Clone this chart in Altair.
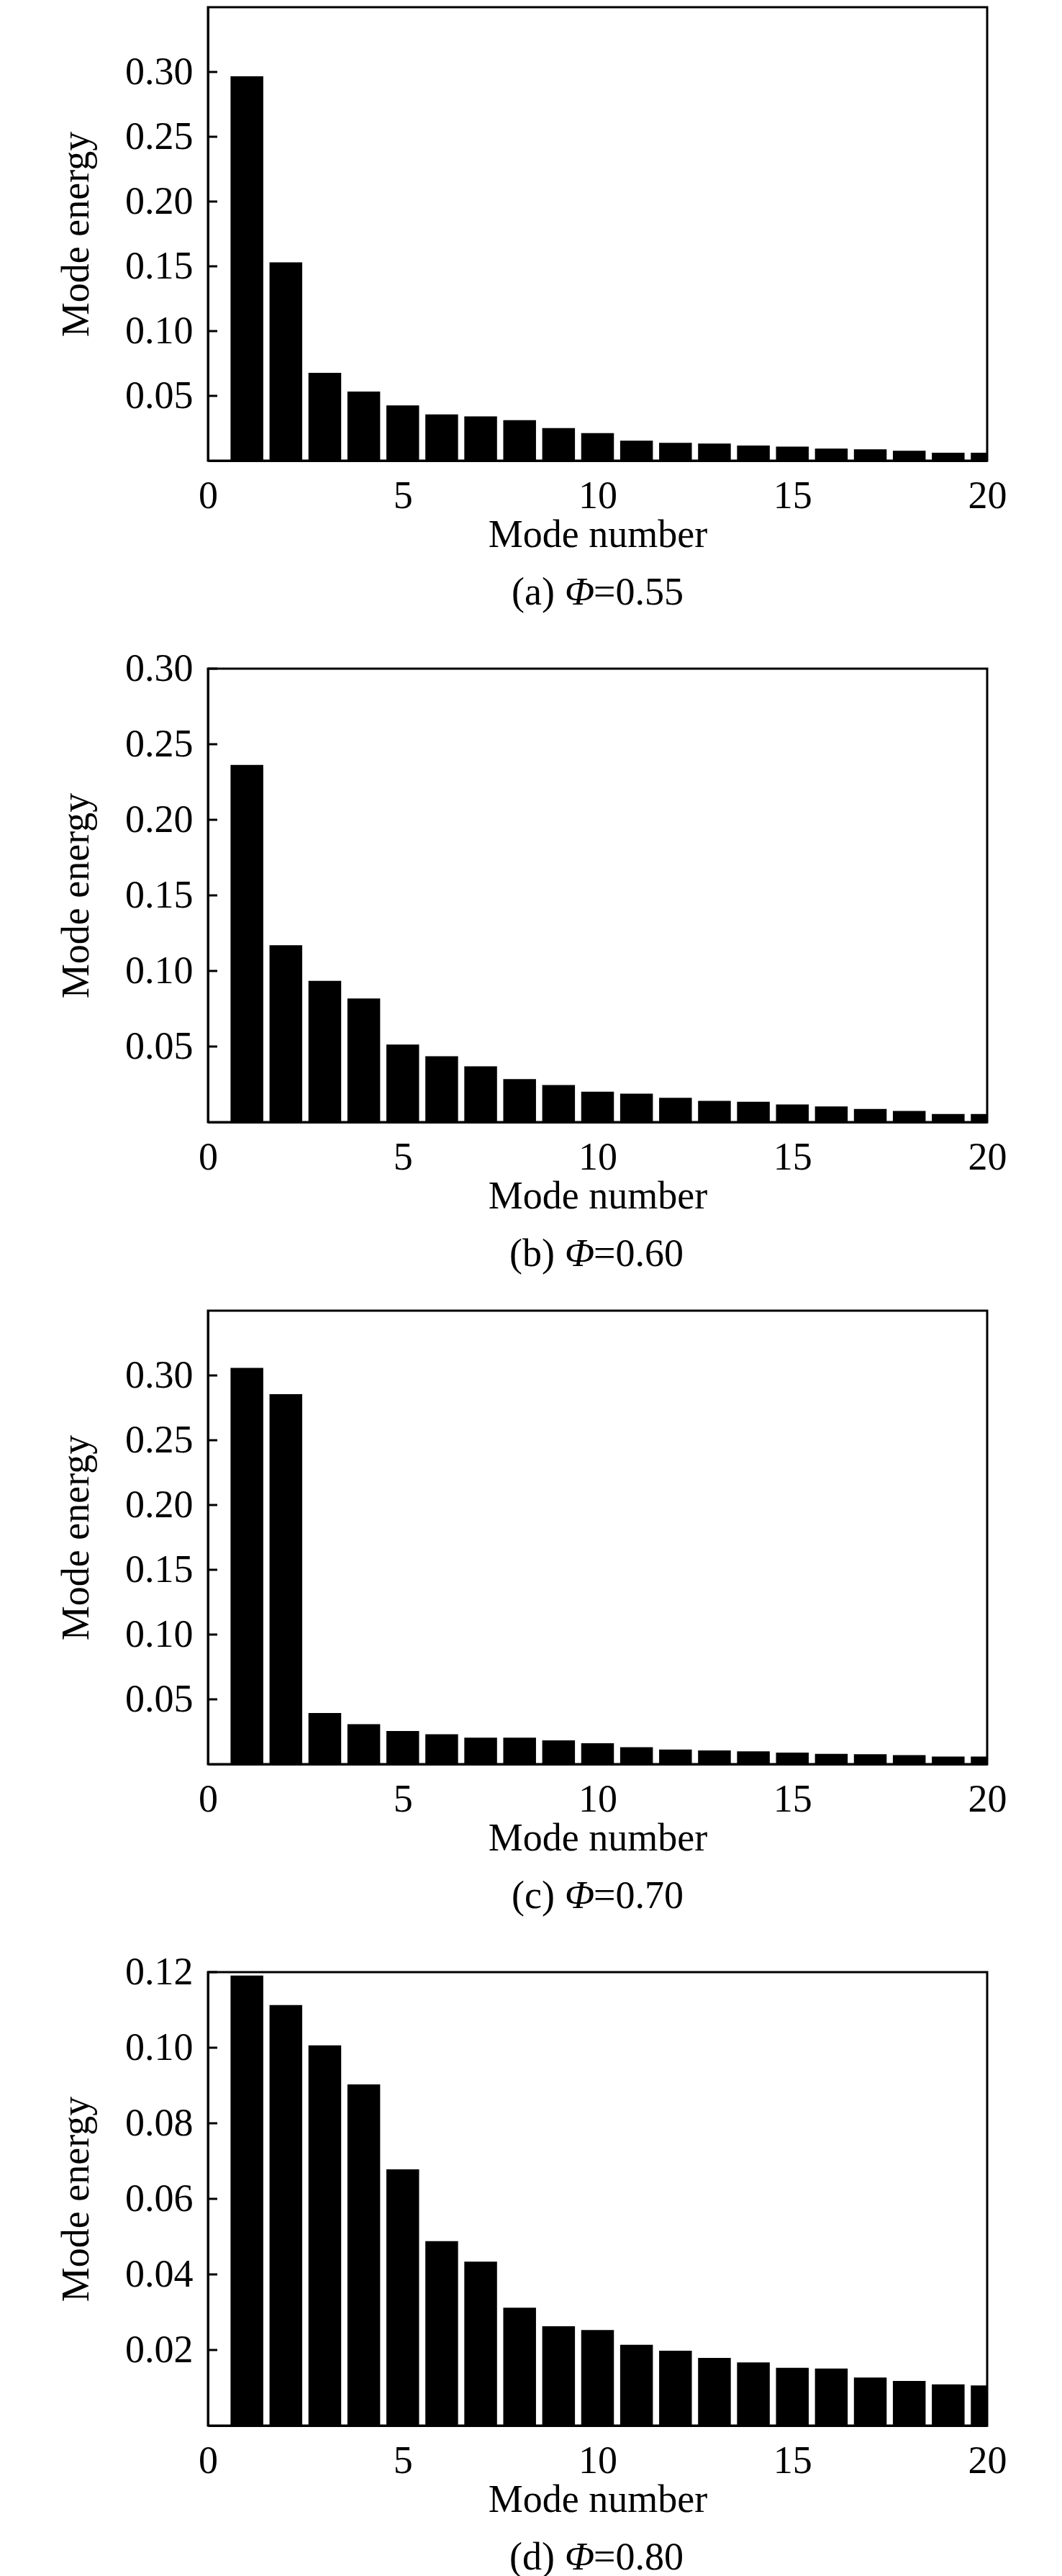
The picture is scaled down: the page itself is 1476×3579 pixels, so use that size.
import altair as alt
import pandas as pd

modes = list(range(1, 21))

energy_a = [0.2967, 0.153, 0.0678, 0.0533, 0.0427, 0.0357, 0.0341, 0.0312, 0.0251, 0.0212,
            0.0154, 0.0138, 0.0132, 0.0116, 0.0109, 0.0093, 0.0087, 0.0077, 0.0061, 0.0061]
energy_b = [0.2363, 0.117, 0.0935, 0.0818, 0.0513, 0.0436, 0.0369, 0.0285, 0.0245, 0.0201,
            0.0188, 0.0161, 0.0141, 0.0134, 0.0117, 0.0104, 0.0087, 0.0074, 0.0054, 0.0054]
energy_c = [0.3058, 0.2855, 0.0394, 0.0309, 0.0256, 0.0230, 0.0204, 0.0204, 0.0184, 0.0161,
            0.0131, 0.0112, 0.0105, 0.0099, 0.0089, 0.0079, 0.0076, 0.0069, 0.0059, 0.0059]
energy_d = [0.1191, 0.1113, 0.1006, 0.0903, 0.0678, 0.0488, 0.0434, 0.0312, 0.0263, 0.0253,
            0.0214, 0.0198, 0.0179, 0.0167, 0.0153, 0.0151, 0.0127, 0.0118, 0.0109, 0.0106]

y_max = [0.35, 0.30, 0.35, 0.12]
y_ticks_ab = [0.05, 0.10, 0.15, 0.20, 0.25, 0.30]
y_ticks_d = [0.02, 0.04, 0.06, 0.08, 0.10, 0.12]
x_ticks = [0, 5, 10, 15, 20]
panel_tags = ["(a)", "(b)", "(c)", "(d)"]
phi_values = ["=0.55", "=0.60", "=0.70", "=0.80"]

W, H = 1083, 630
FONT = "Liberation Serif"
FS = 54
CAP_Y = H + 200


def panel(values, ymax, yticks, tag, phi):
    df = pd.DataFrame({"mode": modes, "energy": values})
    yscale = alt.Scale(domain=[0, ymax], nice=False, zero=True)
    yaxis = alt.Axis(values=yticks, format=".2f", title="Mode energy",
                     ticks=False, tickSize=0, labelPadding=21,
                     titlePadding=40, grid=False)
    xaxis = alt.Axis(values=x_ticks, format="d", title="Mode number",
                     labelFlush=False, ticks=False, tickSize=0,
                     labelPadding=22, titlePadding=0, grid=False)
    bars = alt.Chart(df).mark_bar(color="black", clip=True).transform_calculate(
        lo="datum.mode - 0.42", hi="datum.mode + 0.42"
    ).encode(
        x=alt.X("lo:Q", scale=alt.Scale(domain=[0, 20], nice=False), axis=xaxis),
        x2="hi:Q",
        y=alt.Y("energy:Q", scale=yscale, axis=yaxis),
        y2=alt.datum(0),
    )
    tdf = pd.DataFrame({"energy": yticks})
    ticks = alt.Chart(tdf).mark_rule(color="black", strokeWidth=3).encode(
        y=alt.Y("energy:Q", scale=yscale, axis=yaxis),
        x=alt.value(0), x2=alt.value(13),
    )
    cdf = pd.DataFrame({"t": [tag]})
    t1 = alt.Chart(cdf).mark_text(font=FONT, fontSize=FS, align="right",
                                  baseline="alphabetic", color="black",
                                  text=tag).encode(
        x=alt.value(482), y=alt.value(CAP_Y))
    t2 = alt.Chart(cdf).mark_text(font=FONT, fontSize=FS, align="left",
                                  baseline="alphabetic", fontStyle="italic",
                                  color="black", text="Φ").encode(
        x=alt.value(496), y=alt.value(CAP_Y))
    t3 = alt.Chart(cdf).mark_text(font=FONT, fontSize=FS, align="left",
                                  baseline="alphabetic", color="black",
                                  text=phi).encode(
        x=alt.value(536), y=alt.value(CAP_Y))
    return alt.layer(bars, ticks, t1, t2, t3).properties(width=W, height=H)


charts = [
    panel(energy_a, y_max[0], y_ticks_ab, panel_tags[0], phi_values[0]),
    panel(energy_b, y_max[1], y_ticks_ab, panel_tags[1], phi_values[1]),
    panel(energy_c, y_max[2], y_ticks_ab, panel_tags[2], phi_values[2]),
    panel(energy_d, y_max[3], y_ticks_d, panel_tags[3], phi_values[3]),
]

chart = alt.vconcat(*charts, spacing=47).resolve_scale(y="independent").properties(
    padding={"left": 70, "top": 0, "right": 5, "bottom": 0}
).configure(
    background="white"
).configure_view(
    stroke="black", strokeWidth=3
).configure_axis(
    domainColor="black", domainWidth=3,
    labelFont=FONT, labelFontSize=54, labelColor="black",
    titleFont=FONT, titleFontSize=FS, titleColor="black", titleFontWeight="normal",
    grid=False,
)

chart.save("out.html", embed_options={"renderer": "svg", "actions": False})
